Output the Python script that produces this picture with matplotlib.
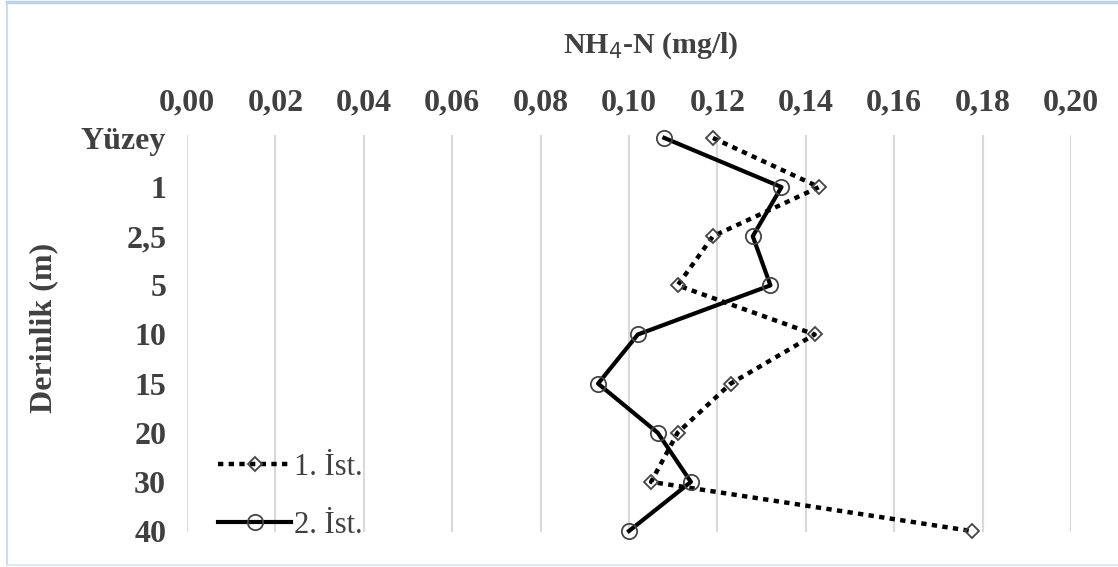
import matplotlib
matplotlib.use("Agg")
import matplotlib.pyplot as plt
from matplotlib.lines import Line2D

depths = ["Yüzey", "1", "2,5", "5", "10", "15", "20", "30", "40"]
ist1 = [0.119, 0.143, 0.119, 0.111, 0.142, 0.123, 0.111, 0.105, 0.1775]
ist2 = [0.108, 0.1345, 0.128, 0.132, 0.102, 0.093, 0.1065, 0.114, 0.100]
xticks = [0.00, 0.02, 0.04, 0.06, 0.08, 0.10, 0.12, 0.14, 0.16, 0.18, 0.20]
xticklabels = ["0,00", "0,02", "0,04", "0,06", "0,08", "0,10", "0,12", "0,14", "0,16", "0,18", "0,20"]

W, H = 1118, 567
fig = plt.figure(figsize=(W / 100, H / 100), dpi=100)
txt = "#404040"
serif = ["Liberation Serif", "DejaVu Serif"]

# frame lines
fig.add_artist(Line2D([6.5 / W, 6.5 / W], [1 - 2 / H, 1 - 564 / H], color="#c9dcf0", lw=1.5, transform=fig.transFigure))
fig.add_artist(Line2D([6.5 / W, 1], [1 - 1.5 / H, 1 - 1.5 / H], color="#bcd3ec", lw=2.5, transform=fig.transFigure))
fig.add_artist(Line2D([6.5 / W, 1], [1 - 564.5 / H, 1 - 564.5 / H], color="#d6e4f3", lw=1.2, transform=fig.transFigure))

left, right = 187 / W, 1071 / W
top, bottom = 1 - 135 / H, 1 - 532 / H
ax = fig.add_axes([left, bottom, right - left, top - bottom])

y = list(range(len(depths)))
ax.plot(ist1, y, color="black", lw=3.2, linestyle=(0, (1.2, 1.2)), dash_capstyle="butt",
        marker="D", markersize=7.5, markerfacecolor="none", markeredgecolor="#444444",
        markeredgewidth=1.3, clip_on=False, zorder=3, label="1. İst.")
ax.plot(ist2, y, color="black", lw=3, linestyle="-",
        marker="o", markersize=11, markerfacecolor="none", markeredgecolor="#444444",
        markeredgewidth=1.3, clip_on=False, zorder=3, label="2. İst.")

ax.set_xlim(0, 0.20)
ax.set_ylim(8.02, -0.06)
ax.set_xticks(xticks)
ax.set_xticklabels(xticklabels)
ax.set_yticks(y)
ax.set_yticklabels(depths)
ax.xaxis.tick_top()
ax.tick_params(axis="x", length=0, pad=12.5, labelsize=23, labelcolor=txt)
ax.tick_params(axis="y", length=0, pad=15, labelsize=23, labelcolor=txt)
for lab in ax.get_xticklabels() + ax.get_yticklabels():
    lab.set_fontfamily(serif)
    lab.set_fontweight("bold")
ax.grid(axis="x", color="#d9d9d9", lw=1.5)
ax.grid(axis="y", visible=False)
ax.set_axisbelow(True)
for s in ax.spines.values():
    s.set_visible(False)

fig.text(651 / W, 1 - 46 / H, "NH$_4$-N (mg/l)", ha="center", va="center", fontsize=21.5,
         fontweight="bold", color=txt, family=serif)
fig.text(44 / W, 1 - 328 / H, "Derinlik (m)", ha="center", va="center", rotation=90,
         fontsize=23, fontweight="bold", color=txt, family=serif)

leg = ax.legend(loc="upper left", bbox_to_anchor=(218 / W, 1 - 453 / H), bbox_transform=fig.transFigure,
                frameon=False, borderpad=0, borderaxespad=0, handlelength=2.4, handletextpad=0.1,
                labelspacing=0.95, prop={"family": serif, "size": 22})
for t in leg.get_texts():
    t.set_color(txt)

fig.savefig("out.png", dpi=100, facecolor="white")
